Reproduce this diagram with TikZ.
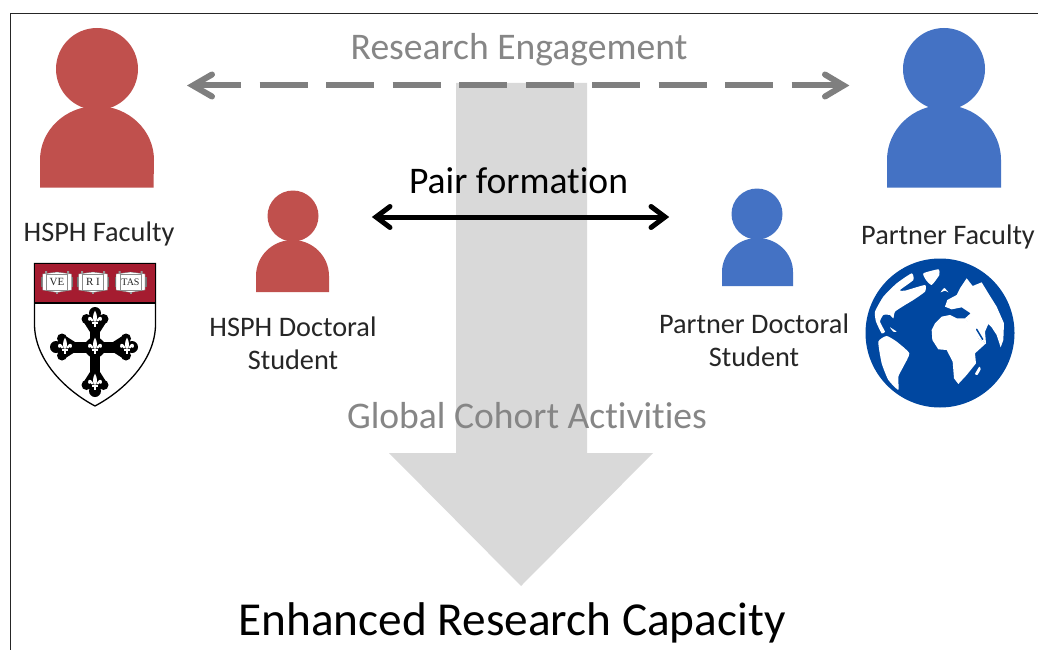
\documentclass[tikz,border=0pt]{standalone}
\usepackage{fontspec}
\setmainfont{Carlito}[Ligatures=NoCommon]
\newfontfamily\seriffam{Liberation Serif}
\definecolor{pred}{HTML}{C0504D}
\definecolor{pblue}{HTML}{4472C4}
\definecolor{darrow}{HTML}{7F7F7F}
\definecolor{lgray}{HTML}{D9D9D9}
\definecolor{gtext}{HTML}{868686}
\definecolor{crim}{HTML}{A51C30}
\definecolor{globeblue}{HTML}{0047A0}
\tikzset{
  lab/.style={align=center,inner sep=0pt,font=\fontsize{28.3}{33}\selectfont,text=black!85},
  big/.style={inner sep=0pt,text=gtext,font=\fontsize{37.6}{44}\selectfont},
  land/.style={fill=white,draw=none},
  petal/.style={fill=white,draw=none},
}
\newcommand{\fleur}[2]{%
  \begin{scope}[shift={(#1,#2)},scale=1.55]
    \fill[petal] (0,-6) .. controls (1.6,-3.5) and (1.4,-1) .. (0.8,1) -- (-0.8,1) .. controls (-1.4,-1) and (-1.6,-3.5) .. (0,-6) -- cycle;
    \fill[petal] (-1,0.5) .. controls (-2,-2.5) and (-4.5,-3) .. (-4.5,-0.5) .. controls (-4.5,0.8) and (-3.2,1) .. (-3,0) .. controls (-2.5,1) and (-1.5,1.3) .. (-1,0.5) -- cycle;
    \fill[petal] (1,0.5) .. controls (2,-2.5) and (4.5,-3) .. (4.5,-0.5) .. controls (4.5,0.8) and (3.2,1) .. (3,0) .. controls (2.5,1) and (1.5,1.3) .. (1,0.5) -- cycle;
    \fill[petal] (-2,1.6) rectangle (2,2.3);
    \fill[petal] (-0.6,2.3) rectangle (0.6,4.4);
  \end{scope}}
\newcommand{\crossend}[2]{% rotation, distance
  \begin{scope}[shift={(95,347)},rotate=#1]
    \fill[black] (0,{-#2+6}) circle (6);
    \fill[black] (-8.5,{-#2+12}) circle (5);
    \fill[black] (8.5,{-#2+12}) circle (5);
    \fill[black] (-12,{-#2+14}) -- (0,{-#2+3}) -- (12,{-#2+14}) -- (5,{-#2+25}) -- (-5,{-#2+25}) -- cycle;
  \end{scope}}
\newcommand{\bookicon}[3]{%
  \begin{scope}[shift={(#1,#2)}]
    \fill[black!55] (-16,-5) rectangle (16,5);
    \fill[white,draw=black!60,line width=.3pt] (-14.5,-8) -- (0,-10) -- (14.5,-8) -- (14.5,8) -- (0,10.5) -- (-14.5,8) -- cycle;
    \draw[black!45,line width=.6pt] (-10.5,-7.5) rectangle (10.5,8);
    \fill[black!40] (-1,10) rectangle (1,12);
    \fill[black!40] (-12,-11) rectangle (-10,-8) (10,-11) rectangle (12,-8);
    \node[inner sep=0pt,font=\fontsize{#3}{11}\selectfont\seriffam,text=black!85] at (0,0) {\bookword};
  \end{scope}}
\newcommand{\bookword}{}
\begin{document}
\begin{tikzpicture}[x=1pt,y=-1pt]
\useasboundingbox (0,0) rectangle (1038,650);
\fill[white] (0,0) rectangle (1038,650);
\coordinate (fl) at (10.5,650);
\coordinate (tl) at (10.5,13.5);
\coordinate (tr) at (1038,13.5);
\draw[black!85,line width=1pt] (fl) -- (tl) -- (tr);

% big arrow
\fill[lgray] (456,83) -- (587,83) -- (587,453) -- (653,453) -- (521,586) -- (389,453) -- (456,453) -- cycle;

% people
\fill[pred] (97,69) circle (41);
\fill[pred] (40,187.5) -- (40,160) arc[start angle=180,end angle=360,x radius=57,y radius=54] -- (153.5,187.5) -- cycle;
\fill[pred] (293,216) circle (25.5);
\fill[pred] (256,292) -- (256,276) arc[start angle=180,end angle=360,x radius=36.5,y radius=36] -- (329,292) -- cycle;
\fill[pblue] (944,69) circle (41);
\fill[pblue] (887,187.5) -- (887,160) arc[start angle=180,end angle=360,x radius=57,y radius=55] -- (1001,187.5) -- cycle;
\fill[pblue] (757,214) circle (25.5);
\fill[pblue] (722,286) -- (722,272) arc[start angle=180,end angle=360,x radius=35.5,y radius=34] -- (793,286) -- cycle;

% arrows
\coordinate (ra) at (193,85.5);
\coordinate (rb) at (843.5,85.5);
\draw[darrow,line width=6pt,dash pattern=on 48pt off 18.5pt] (193,85.5) -- (840,85.5);
\draw[darrow,line width=6pt,line cap=round,line join=miter] (212,74.5) -- (ra) -- (212,96.5);
\draw[darrow,line width=6pt,line cap=round,line join=miter] (825,74.5) -- (rb) -- (825,96.5);
\coordinate (pa) at (376,217);
\coordinate (pb) at (665,217);
\draw[black,line width=5pt] (pa) -- (pb);
\draw[black,line width=5pt,line cap=round] (390,206.5) -- (pa) -- (390,227.5);
\draw[black,line width=5pt,line cap=round] (651,206.5) -- (pb) -- (651,227.5);

% texts
\node[big] (re) at (519,50) {Research Engagement};
\node[inner sep=0pt,font=\fontsize{37.6}{44}\selectfont,text=black] (pf) at (518.5,181) {Pair formation};
\node[big] (gc) at (527,416) {Global Cohort Activities};
\node[inner sep=0pt,font=\fontsize{47.3}{56}\selectfont,text=black] (er) at (512,623) {Enhanced Research Capacity};
\node[lab] (hf) at (99,234) {HSPH Faculty};
\node[lab] (pfa) at (948,237) {Partner Faculty};
\node[lab] (hs) at (293,343.5) {HSPH Doctoral\\Student};
\node[lab] (ps) at (754,340.5) {Partner Doctoral\\Student};

% shield
\fill[white,draw=black,line width=1.3pt] (34.5,263.5) -- (155.5,263.5) -- (155.5,325)
  .. controls (155,360) and (125,390) .. (95,406) .. controls (65,390) and (35,360) .. (34.5,325) -- cycle;
\fill[crim,draw=black,line width=1.3pt] (34.5,263.5) rectangle (155.5,303);
\renewcommand{\bookword}{VE}\bookicon{57}{282}{11}
\renewcommand{\bookword}{R I}\bookicon{93}{282}{11}
\renewcommand{\bookword}{TAS}\bookicon{130.5}{282}{10}
\fill[black] (90,320) rectangle (100,385);
\fill[black] (62,341.5) rectangle (128,353);
\crossend{0}{40}
\crossend{180}{50}
\crossend{270}{43}
\crossend{90}{45}
\fill[black] (95,334) -- (103,341) -- (108,347) -- (103,354) -- (95,361) -- (87,354) -- (82,347) -- (87,341) -- cycle;
\fleur{95}{320}
\fleur{95}{347}
\fleur{95}{383}
\fleur{65}{347}
\fleur{127}{347}

% globe
\fill[globeblue] (940,333) circle (74.5);
\begin{scope}[shift={(850,250)},x=.3333pt,y=-.3333pt]
\clip (270,250) circle (222);
\fill[land] plot[smooth cycle,tension=.3] coordinates {(75,185) (100,140) (140,100) (185,70) (190,90) (150,120) (165,122) (225,105) (225,125) (190,150) (165,165) (135,185) (130,205) (120,195) (100,195) (90,215) (105,245) (95,250) (78,215)};
\fill[land] plot[smooth cycle,tension=.3] coordinates {(220,70) (265,58) (268,75) (245,105) (228,90)};
\fill[land] plot[smooth cycle,tension=.3] coordinates {(85,275) (110,258) (140,275) (178,310) (160,350) (145,380) (145,420) (115,390) (95,340)};
\fill[land] (285,170) -- (292,150) -- (320,135) -- (330,115) -- (350,85) -- (368,108) -- (395,97) -- (415,130) -- (440,170) -- (462,220) -- (460,270) -- (452,292) -- (440,255) -- (425,232) -- (415,222) -- (405,245) -- (408,280) -- (385,265) -- (345,205) -- (362,190) -- (335,172) -- (305,178) -- cycle;
\fill[land] (245,240) -- (255,220) -- (275,200) -- (300,195) -- (320,205) -- (345,205) -- (370,235) -- (385,265) -- (408,280) -- (375,310) -- (378,340) -- (350,375) -- (325,402) -- (312,385) -- (308,335) -- (290,300) -- (265,298) -- (247,270) -- cycle;
\draw[globeblue,line width=1.5pt,line cap=round] (380,238) -- (398,268);
\fill[land] plot[smooth cycle,tension=.3] coordinates {(375,372) (388,350) (392,358) (382,375)};
\fill[land] plot[smooth cycle,tension=.3] coordinates {(120,232) (140,245) (130,245)};
\fill[land] plot[smooth cycle,tension=.3] coordinates {(272,127) (283,114) (295,127) (285,122)};
\end{scope}
\end{tikzpicture}
\end{document}
